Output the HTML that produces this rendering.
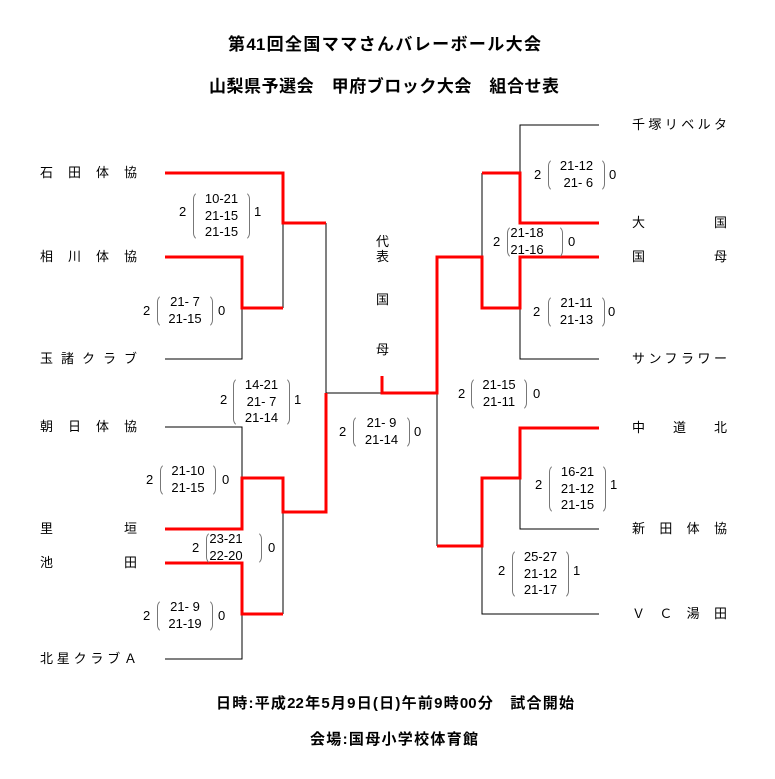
<!DOCTYPE html>
<html><head><meta charset="utf-8"><style>
body{margin:0;width:775px;height:779px;background:#fff;position:relative;overflow:hidden;font-family:"Liberation Sans","Noto Sans CJK JP",sans-serif;color:#000}
.a{position:absolute;white-space:nowrap}
.t{font-weight:bold;font-size:17px;line-height:20px}
.f{font-weight:bold;font-size:15px;line-height:18px;text-align:justify;text-align-last:justify}
.n{font-size:13px;line-height:16px;text-align:justify;text-align-last:justify}
.s{font-size:13px;line-height:16.5px;text-align:center}
.p{position:absolute;border-left:1.5px solid #777;border-right:1.5px solid #777;border-top:1px solid transparent;border-bottom:1px solid transparent;border-radius:8px;box-sizing:border-box}
.d{font-size:13px;line-height:16px}
</style></head><body>
<div class="a t" style="left:228px;top:35px;width:313px;text-align:justify;text-align-last:justify">第41回全国ママさんバレーボール大会</div>
<div class="a t" style="left:209px;top:77px;width:350px;text-align:justify;text-align-last:justify">山梨県予選会　甲府ブロック大会　組合せ表</div>

<svg class="a" style="left:0;top:0" width="775" height="779">
<g stroke="#000" stroke-width="1" fill="none">
<path d="M165 359H242V308M283 223V308M165 427H242V478M326 223V512M283 512V614M165 659H242V614M326 393H382"/>
<path d="M599 125H520V173M482 173V257M599 359H520V308M437 393V546M520 478V529H599M482 546V614H599"/>
</g>
<g stroke="#f00" stroke-width="3" fill="none">
<path d="M165 173H283V223H326"/>
<path d="M165 257H242V308H283"/>
<path d="M165 529H242V478H283V512H326V393"/>
<path d="M165 563H242V614H283"/>
<path d="M382 376V393H437V257H482V308H520V257H599"/>
<path d="M482 173H520V223H599"/>
<path d="M437 546H482V478H520V428H599"/>
</g>
</svg>

<div class="a n" style="left:40px;top:165px;width:97px">石田体協</div>
<div class="a n" style="left:40px;top:249px;width:97px">相川体協</div>
<div class="a n" style="left:40px;top:351px;width:97px">玉諸クラブ</div>
<div class="a n" style="left:40px;top:419px;width:97px">朝日体協</div>
<div class="a n" style="left:40px;top:521px;width:97px">里垣</div>
<div class="a n" style="left:40px;top:555px;width:97px">池田</div>
<div class="a n" style="left:40px;top:651px;width:97px">北星クラブＡ</div>
<div class="a n" style="left:632px;top:117px;width:95px">千塚リベルタ</div>
<div class="a n" style="left:632px;top:215px;width:95px">大国</div>
<div class="a n" style="left:632px;top:249px;width:95px">国母</div>
<div class="a n" style="left:632px;top:351px;width:95px">サンフラワー</div>
<div class="a n" style="left:632px;top:420px;width:95px">中道北</div>
<div class="a n" style="left:632px;top:521px;width:95px">新田体協</div>
<div class="a n" style="left:632px;top:606px;width:95px">ＶＣ湯田</div>

<div class="a d" style="left:376px;top:234px">代</div>
<div class="a d" style="left:376px;top:249px">表</div>
<div class="a d" style="left:376px;top:292px">国</div>
<div class="a d" style="left:376px;top:342px">母</div>

<div class="a d" style="left:179px;top:204px">2</div><div class="p" style="left:193px;top:191px;width:57px;height:50px"></div><div class="a s" style="left:193px;top:191px;width:57px">10-21<br>21-15<br>21-15</div><div class="a d" style="left:254px;top:204px">1</div>

<div class="a d" style="left:143px;top:303px">2</div><div class="p" style="left:157px;top:294px;width:56px;height:34px"></div><div class="a s" style="left:157px;top:294px;width:56px">21-&nbsp;7<br>21-15</div><div class="a d" style="left:218px;top:303px">0</div>

<div class="a d" style="left:220px;top:392px">2</div><div class="p" style="left:233px;top:377px;width:57px;height:50px"></div><div class="a s" style="left:233px;top:377px;width:57px">14-21<br>21-&nbsp;7<br>21-14</div><div class="a d" style="left:294px;top:392px">1</div>

<div class="a d" style="left:146px;top:472px">2</div><div class="p" style="left:160px;top:463px;width:56px;height:34px"></div><div class="a s" style="left:160px;top:463px;width:56px">21-10<br>21-15</div><div class="a d" style="left:222px;top:472px">0</div>

<div class="a d" style="left:192px;top:540px">2</div><div class="p" style="left:206px;top:531px;width:56px;height:34px"></div><div class="a s" style="left:206px;top:531px;width:40px">23-21<br>22-20</div><div class="a d" style="left:268px;top:540px">0</div>

<div class="a d" style="left:143px;top:608px">2</div><div class="p" style="left:157px;top:599px;width:56px;height:34px"></div><div class="a s" style="left:157px;top:599px;width:56px">21-&nbsp;9<br>21-19</div><div class="a d" style="left:218px;top:608px">0</div>

<div class="a d" style="left:339px;top:424px">2</div><div class="p" style="left:353px;top:415px;width:57px;height:34px"></div><div class="a s" style="left:353px;top:415px;width:57px">21-&nbsp;9<br>21-14</div><div class="a d" style="left:414px;top:424px">0</div>

<div class="a d" style="left:534px;top:167px">2</div><div class="p" style="left:548px;top:158px;width:57px;height:34px"></div><div class="a s" style="left:548px;top:158px;width:57px">21-12<br>&nbsp;21-&nbsp;6</div><div class="a d" style="left:609px;top:167px">0</div>

<div class="a d" style="left:493px;top:234px">2</div><div class="p" style="left:507px;top:225px;width:56px;height:34px"></div><div class="a s" style="left:507px;top:225px;width:40px">21-18<br>21-16</div><div class="a d" style="left:568px;top:234px">0</div>

<div class="a d" style="left:533px;top:304px">2</div><div class="p" style="left:548px;top:295px;width:57px;height:34px"></div><div class="a s" style="left:548px;top:295px;width:57px">21-11<br>21-13</div><div class="a d" style="left:608px;top:304px">0</div>

<div class="a d" style="left:458px;top:386px">2</div><div class="p" style="left:471px;top:377px;width:56px;height:34px"></div><div class="a s" style="left:471px;top:377px;width:56px">21-15<br>21-11</div><div class="a d" style="left:533px;top:386px">0</div>

<div class="a d" style="left:535px;top:477px">2</div><div class="p" style="left:549px;top:464px;width:57px;height:50px"></div><div class="a s" style="left:549px;top:464px;width:57px">16-21<br>21-12<br>21-15</div><div class="a d" style="left:610px;top:477px">1</div>

<div class="a d" style="left:498px;top:563px">2</div><div class="p" style="left:512px;top:549px;width:57px;height:50px"></div><div class="a s" style="left:512px;top:549px;width:57px">25-27<br>21-12<br>21-17</div><div class="a d" style="left:573px;top:563px">1</div>

<div class="a f" style="left:216px;top:695px;width:358px">日時:平成22年5月9日(日)午前9時00分　試合開始</div>
<div class="a f" style="left:310px;top:731px;width:168px">会場:国母小学校体育館</div>
</body></html>
